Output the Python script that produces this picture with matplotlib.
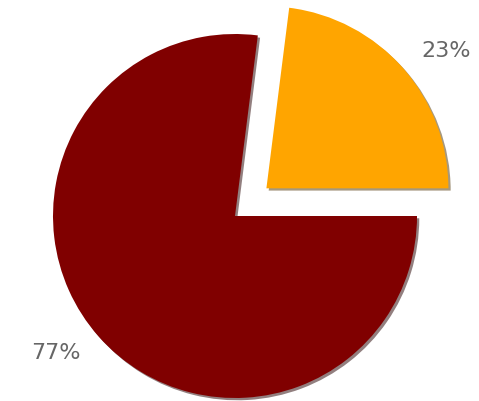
import numpy as np
import matplotlib.pyplot as plt

labels = ["23%", "77%"]
shares = [23, 77]
colors = ["#FFA500", "#800000"]
explode = [0.23, 0.0]

R_PX = 182.0
CX, CY = 235.0, 216.0
W, H = 479, 401

fig = plt.figure(figsize=(W / 100, H / 100), dpi=100)
ax = fig.add_axes([0, 0, 1, 1])

wedges, texts = ax.pie(shares, labels=labels, colors=colors, explode=explode,
                       startangle=0, counterclock=True,
                       shadow={'ox': 0.009, 'oy': -0.009, 'shade': 0.7},
                       textprops={'color': '#666666', 'fontsize': 16},
                       wedgeprops={'linewidth': 0})

# labels sit a bit clockwise of the slice middle
for w, t in zip(wedges, texts):
    ang = np.deg2rad((w.theta1 + w.theta2) / 2 - 4)
    cx, cy = w.center
    t.set_position((cx + 1.24 * np.cos(ang), cy + 1.24 * np.sin(ang)))
    t.set_ha('center')
    t.set_va('center')

ax.set_xlim(-CX / R_PX, (W - CX) / R_PX)
ax.set_ylim(-(H - CY) / R_PX, CY / R_PX)
ax.set_aspect('equal')
ax.axis('off')

fig.savefig("out.png", dpi=100)
